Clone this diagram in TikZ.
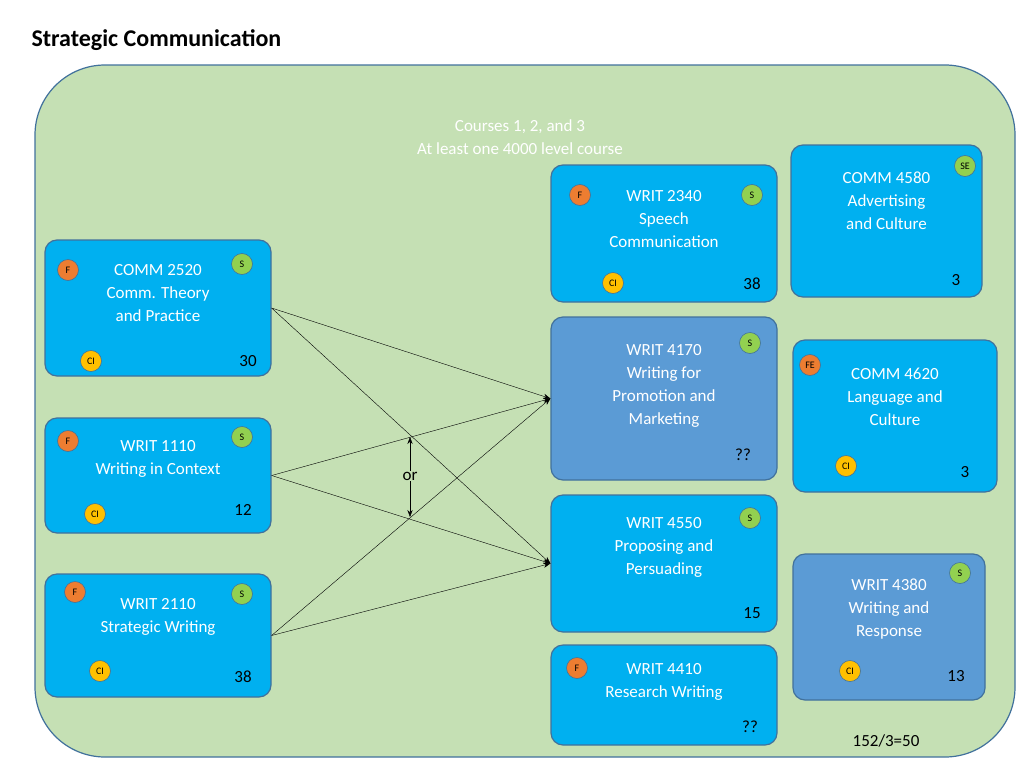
\documentclass[tikz,border=0pt]{standalone}
\usepackage{fontspec}
\setmainfont{Carlito}
\usetikzlibrary{arrows.meta, positioning}
\definecolor{areaGreen}{RGB}{197,224,180}
\definecolor{edgeBlue}{RGB}{65,113,156}
\definecolor{courseBlue}{RGB}{0,176,240}
\definecolor{courseDark}{RGB}{91,155,213}
\definecolor{badgeF}{RGB}{237,125,49}
\definecolor{badgeS}{RGB}{146,208,80}
\definecolor{badgeCI}{RGB}{255,192,0}
\begin{document}
\begin{tikzpicture}[
    x=1pt, y=-1pt,
    course/.style={
        rectangle,
        rounded corners=12pt,
        draw=edgeBlue,
        line width=1.2pt,
        fill=courseBlue,
        text=white,
        align=center,
        font=\fontsize{17}{23}\selectfont
    },
    coursedark/.style={course, fill=courseDark},
    badge/.style={
        circle,
        draw=edgeBlue,
        line width=0.6pt,
        minimum size=21pt,
        inner sep=0pt,
        font=\fontsize{10}{10}\selectfont
    },
    count/.style={font=\fontsize{17}{17}\selectfont}
]
    \useasboundingbox (0,0) rectangle (1024,768);

    \node[anchor=west, font=\bfseries\fontsize{24}{24}\selectfont] (title) at (28,40) {Strategic Communication};
    \draw[fill=areaGreen, draw=edgeBlue, line width=1.2pt, rounded corners=70pt] (35,65) rectangle (1015,757);
    \node[text=white, align=center, font=\fontsize{17}{23}\selectfont] (header) at (520,137) {Courses 1, 2, and 3\\At least one 4000 level course};

    % left column
    \node[course, minimum width=226pt, minimum height=136pt] (c2520) at (158,308) {COMM 2520\\Comm. Theory\\and Practice\\[8pt]};
    \node[course, minimum width=226pt, minimum height=115pt] (w1110) at (158,475.5) {WRIT 1110\\Writing in Context\\[14pt]};
    \node[course, minimum width=226pt, minimum height=123pt] (w2110) at (158,635.5) {WRIT 2110\\Strategic Writing\\[18pt]};

    % middle column
    \node[course, minimum width=226pt, minimum height=137pt] (w2340) at (664,233.5) {WRIT 2340\\Speech\\Communication\\[6pt]};
    \node[coursedark, minimum width=226pt, minimum height=163pt] (w4170) at (664,398.5) {WRIT 4170\\Writing for\\Promotion and\\Marketing\\[6pt]};
    \node[course, minimum width=226pt, minimum height=137pt] (w4550) at (664,563.5) {WRIT 4550\\Proposing and\\Persuading\\[12pt]};
    \node[course, minimum width=226pt, minimum height=100pt] (w4410) at (664,695) {WRIT 4410\\Research Writing\\[6pt]};

    % right column
    \node[course, minimum width=191pt, minimum height=152pt] (c4580) at (886.5,221) {COMM 4580\\Advertising\\and Culture\\[18pt]};
    \node[course, minimum width=204pt, minimum height=152pt] (c4620) at (895,416) {COMM 4620\\Language and\\Culture\\[16pt]};
    \node[coursedark, minimum width=192pt, minimum height=146pt] (w4380) at (889,627) {WRIT 4380\\Writing and\\Response\\[16pt]};

    % badges
    \node[badge, fill=badgeF] (f2520) at (68,270) {F};
    \node[badge, fill=badgeS] (s2520) at (242,264) {S};
    \node[badge, fill=badgeCI] (ci2520) at (91,361) {CI};
    \node[badge, fill=badgeF] (f1110) at (68,441) {F};
    \node[badge, fill=badgeS] (s1110) at (242,437) {S};
    \node[badge, fill=badgeCI] (ci1110) at (95,514) {CI};
    \node[badge, fill=badgeF] (f2110) at (75,592) {F};
    \node[badge, fill=badgeS] (s2110) at (242,594) {S};
    \node[badge, fill=badgeCI] (ci2110) at (100,671) {CI};
    \node[badge, fill=badgeF] (f2340) at (580,195) {F};
    \node[badge, fill=badgeS] (s2340) at (752,195) {S};
    \node[badge, fill=badgeCI] (ci2340) at (613,283) {CI};
    \node[badge, fill=badgeS] (s4170) at (750,343) {S};
    \node[badge, fill=badgeS] (s4550) at (750,518) {S};
    \node[badge, fill=badgeF] (f4410) at (577,668) {F};
    \node[badge, fill=badgeS] (se4580) at (965,166) {SE};
    \node[badge, fill=badgeF] (fe4620) at (810,365) {FE};
    \node[badge, fill=badgeCI] (ci4620) at (846,466) {CI};
    \node[badge, fill=badgeS] (s4380) at (960,573) {S};
    \node[badge, fill=badgeCI] (ci4380) at (850,671) {CI};

    % enrolment numbers
    \node[count] (n2520) at (248,361) {30};
    \node[count] (n1110) at (243,510) {12};
    \node[count] (n2110) at (243,677) {38};
    \node[count] (n2340) at (752,284) {38};
    \node[count] (n4170) at (743,455) {??};
    \node[count] (n4550) at (752,613) {15};
    \node[count] (n4410) at (750,727) {??};
    \node[count] (n4580) at (956,280) {3};
    \node[count] (n4620) at (965,472) {3};
    \node[count] (n4380) at (956,676) {13};
    \node[count] (total) at (886,741) {152/3=50};

    % connectors
    \foreach \src in {c2520, w1110, w2110} {
        \draw[-{Stealth[length=7pt]}, thin] (\src.east) -- (w4170.west);
        \draw[-{Stealth[length=7pt]}, thin] (\src.east) -- (w4550.west);
    }
    \coordinate (orTop) at (410,437);
    \coordinate (orBot) at (410,517);
    \draw[{Stealth[length=7pt]}-{Stealth[length=7pt]}, thin] (orTop) -- (orBot);
    \node[fill=areaGreen, inner sep=1pt, count] (orlabel) at (410,476) {or};

\end{tikzpicture}
\end{document}
